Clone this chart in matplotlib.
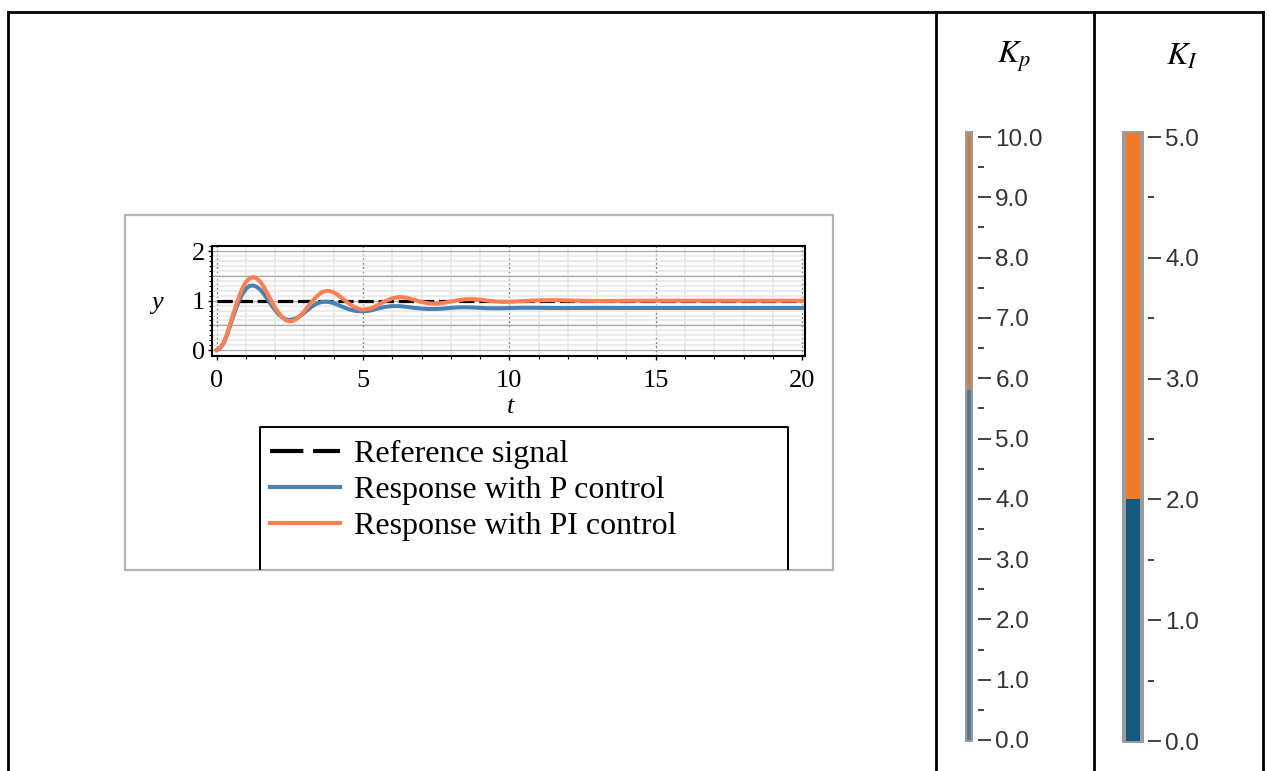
import numpy as np
import matplotlib
matplotlib.use("Agg")
import matplotlib.pyplot as plt
from matplotlib.lines import Line2D
from matplotlib.patches import Rectangle

plt.rcParams['font.family'] = ['Liberation Serif', 'DejaVu Serif']
plt.rcParams['mathtext.fontset'] = 'stix'
plt.rcParams['lines.scale_dashes'] = False

# step response data
t = [0, 0.125, 0.25, 0.375, 0.5, 0.625, 0.75, 0.875, 1.0, 1.125, 1.25, 1.375,
     1.5, 1.625, 1.75, 1.875, 2.0, 2.125, 2.25, 2.375, 2.5, 2.625, 2.75, 2.875,
     3.0, 3.125, 3.25, 3.375, 3.5, 3.625, 3.75, 3.875, 4.0, 4.125, 4.25, 4.375,
     4.5, 4.625, 4.75, 4.875, 5.0, 5.25, 5.5, 5.75, 6.0, 6.25, 6.5, 6.75,
     7.0, 7.25, 7.5, 7.75, 8.0, 8.25, 8.5, 8.75, 9.0, 9.25, 9.5, 9.75, 10.0,
     10.5, 11.0, 11.5, 12.0, 12.5, 13.0, 14, 15, 16, 17, 18, 19, 20]
y_p = [0.00, 0.04, 0.15, 0.34, 0.56, 0.78, 0.98, 1.13, 1.24, 1.30, 1.31, 1.28,
       1.22, 1.13, 1.02, 0.91, 0.81, 0.72, 0.66, 0.62, 0.61, 0.625, 0.65, 0.70,
       0.76, 0.82, 0.88, 0.925, 0.96, 0.977, 0.98, 0.97, 0.95, 0.92, 0.89, 0.86,
       0.83, 0.81, 0.795, 0.787, 0.785, 0.80, 0.84, 0.875,
       0.89, 0.89, 0.875, 0.855, 0.84, 0.832, 0.833, 0.842, 0.855, 0.864, 0.866,
       0.862, 0.855, 0.848, 0.846, 0.848, 0.852, 0.857, 0.856, 0.852, 0.851,
       0.853, 0.854, 0.853, 0.853, 0.853, 0.853, 0.853, 0.853, 0.853]
y_pi = [0.00, 0.045, 0.16, 0.36, 0.60, 0.84, 1.06, 1.24, 1.38, 1.45, 1.48, 1.45,
        1.38, 1.27, 1.13, 0.99, 0.86, 0.75, 0.66, 0.60, 0.58, 0.595, 0.64, 0.705,
        0.79, 0.885, 0.98, 1.06, 1.13, 1.18, 1.20, 1.195, 1.17, 1.125, 1.07, 1.01,
        0.95, 0.90, 0.86, 0.83, 0.82, 0.84, 0.91, 0.99,
        1.05, 1.075, 1.06, 1.02, 0.975, 0.945, 0.94, 0.955, 0.985, 1.01, 1.028,
        1.032, 1.022, 1.003, 0.987, 0.977, 0.977, 0.995, 1.008, 1.012, 1.006,
        0.998, 0.995, 0.999, 1.001, 1.0, 1.0, 1.0, 1.0, 1.0]
t_ref = [0, 20]
y_ref = [1, 1]
labels = ['Reference signal', 'Response with P control', 'Response with PI control']

# slider settings
kp_value = 5.8
kp_ticks = list(range(0, 11))
ki_value = 2.0
ki_ticks = list(range(0, 6))

BLUE = '#4682b4'
ORANGE = '#ff7f50'

W, H = 1269, 771
fig = plt.figure(figsize=(W / 100, H / 100), dpi=100)


def fx(px):
    return px / W


def fy(py):
    return 1 - py / H


# background layer in pixel coordinates for table lines and boxes
bg = fig.add_axes([0, 0, 1, 1])
bg.set_xlim(0, W)
bg.set_ylim(H, 0)
bg.axis('off')
lw_tab = 2.0
bg.plot([8, 1263], [12, 12], color='black', lw=lw_tab, solid_capstyle='projecting')
for xv in [8, 936, 1094, 1263]:
    bg.plot([xv, xv], [12, H + 5], color='black', lw=lw_tab)
bg.add_patch(Rectangle((125, 215), 708, 355, fill=False, edgecolor='#b4b4b4', lw=1.6))
bg.plot([260, 260, 788, 788], [569, 427, 427, 569], color='black', lw=1.4)

# main plot
ax = fig.add_axes([fx(212), fy(355.7), (805 - 212) / W, (355.7 - 245.5) / H])
ax.set_xlim(-0.157, 20.1)
ax.set_ylim(-0.115, 2.12)
ax.set_xticks(range(0, 21, 5))
ax.set_xticks(range(0, 21), minor=True)
ax.set_yticks([0, 1, 2])
ax.set_yticks(np.arange(0, 2.11, 0.1), minor=True)
ax.grid(which='minor', axis='both', color='#e6e6e6', lw=1.1)
for v in [0, 0.5, 1, 1.5, 2]:
    ax.axhline(v, color='#aaaaaa', lw=0.9, zorder=1)
ax.grid(which='major', axis='x', color='#888888', ls=(0, (1.5, 1.5)), lw=1.0)
ax.set_axisbelow(True)

ax.plot(t_ref, y_ref, color='black', lw=2.3, dashes=(11, 3.5), zorder=3)
ax.plot(t, y_p, color=BLUE, lw=2.9, zorder=4, solid_joinstyle='round')
ax.plot(t, y_pi, color=ORANGE, lw=2.9, zorder=5, solid_joinstyle='round')

for s in ax.spines.values():
    s.set_linewidth(1.5)
ax.tick_params(which='major', direction='out', length=3, width=1, labelsize=19, pad=2)
ax.tick_params(axis='x', which='major', pad=7)
ax.tick_params(which='minor', direction='out', length=2.5, width=0.8)
ax.set_xlabel('t', fontsize=19, style='italic')
ax.xaxis.set_label_coords(0.503, -0.37)
ax.set_ylabel('y', fontsize=19, style='italic', rotation=0, ha='center', va='center')
ax.yaxis.set_label_coords(-0.093, 0.48)

handles = [Line2D([], [], color='black', lw=3, dashes=(24, 7)),
           Line2D([], [], color=BLUE, lw=3),
           Line2D([], [], color=ORANGE, lw=3)]
ax.legend(handles, labels, loc='upper left', bbox_to_anchor=(fx(270), fy(440)),
          bbox_transform=fig.transFigure, frameon=False, fontsize=23,
          handlelength=2.2, handletextpad=0.44, labelspacing=0.2,
          borderpad=0, borderaxespad=0)


def slider(x0, width, bar_w, inner, vmax, value, ticks, lo_col, hi_col, title, title_x):
    y0, y1 = (740, 137) if vmax == 10 else (741, 137)
    sax = fig.add_axes([fx(x0), fy(y0), width / W, (y0 - y1) / H])
    sax.set_xlim(0, width)
    sax.set_ylim(0, vmax)
    pad = vmax * 0.007
    sax.bar(0, vmax + 2 * pad, bottom=-pad / 2, width=bar_w, align='edge',
            color='#9c9c9c', clip_on=False)
    sax.bar(inner[0], value, bottom=0, width=inner[1] - inner[0], align='edge',
            color=lo_col, clip_on=False)
    sax.bar(inner[0], vmax + pad - value, bottom=value, width=inner[1] - inner[0],
            align='edge', color=hi_col, clip_on=False)
    for s in sax.spines.values():
        s.set_visible(False)
    sax.set_xticks([])
    sax.yaxis.tick_right()
    sax.set_yticks(ticks)
    sax.set_yticklabels([f'{v:.1f}' for v in ticks], fontfamily='Liberation Sans')
    sax.set_yticks([v + 0.5 for v in ticks[:-1]], minor=True)
    sax.tick_params(axis='y', which='major', direction='out', length=9.5, width=1.3,
                    color='#333333', labelcolor='#333333', labelsize=17.5, pad=3)
    sax.tick_params(axis='y', which='minor', direction='out', length=4.5, width=1.3,
                    color='#333333')
    sax.patch.set_alpha(0)
    fig.text(fx(title_x), fy(57), title, fontsize=23, ha='center', va='center')


slider(965, 13, 8, (1.6, 6.4), 10, kp_value, kp_ticks, '#4e7a93', '#c4804f',
       r'$K_p$', 1014)
slider(1122, 26, 22, (3.7, 18.0), 5, ki_value, ki_ticks, '#145a7e', '#f07b22',
       r'$K_I$', 1182)

fig.savefig('out.png', dpi=100)
